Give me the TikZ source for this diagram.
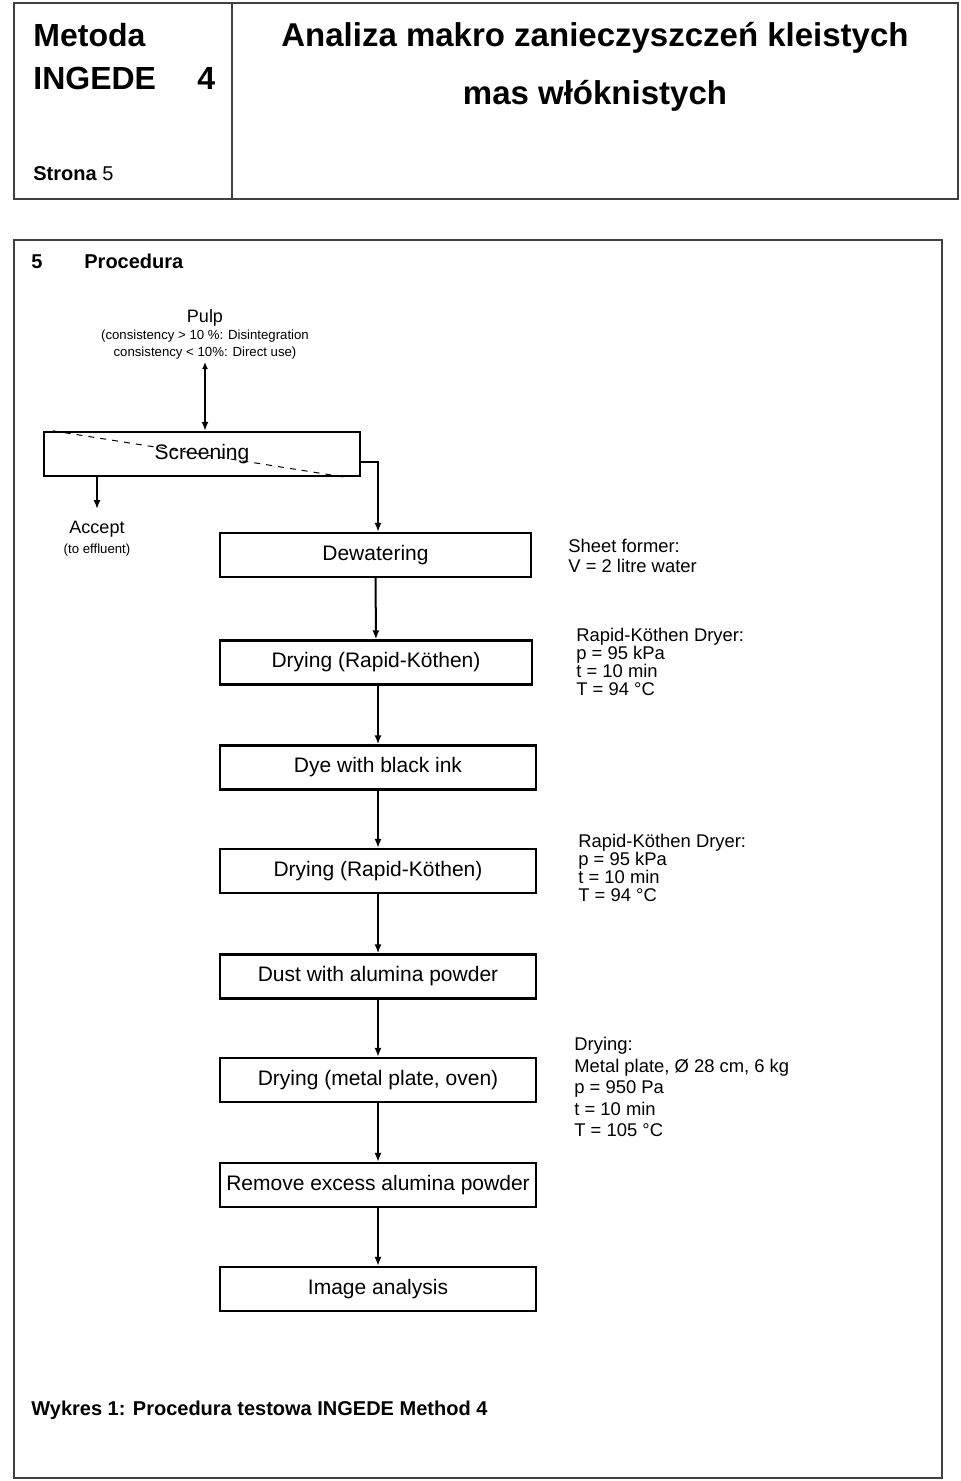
\documentclass[tikz,border=0pt]{standalone}
\usepackage{fontspec}
\setmainfont{Liberation Sans}
\usetikzlibrary{arrows.meta}

\begin{document}
\begin{tikzpicture}[x=0.5pt,y=-0.5pt,
    stepbox/.style={draw, line width=1.2pt, minimum width=158pt, minimum height=22pt, inner sep=0pt, font=\fontsize{10.5}{12}\selectfont},
    note/.style={anchor=north west, align=left, inner sep=0pt, font=\fontsize{9.2}{8.9}\selectfont},
    flow/.style={line width=1pt, -{Latex[length=4.5pt,width=3.6pt]}},
    frame/.style={line width=1pt, draw=black!75}]
  \useasboundingbox (0,0) rectangle (960,1481);

  % header
  \draw[frame] (14,3) rectangle (958,199);
  \draw[frame] (232,3) -- (232,199);
  \node[anchor=base west, inner sep=0pt, font=\fontsize{16}{18}\selectfont\bfseries] (metoda) at (33,47) {Metoda};
  \node[anchor=base west, inner sep=0pt, font=\fontsize{16}{18}\selectfont\bfseries] (ingede) at (33,90) {INGEDE};
  \node[anchor=base west, inner sep=0pt, font=\fontsize{16}{18}\selectfont\bfseries] (nr) at (197,90) {4};
  \node[anchor=base west, inner sep=0pt, font=\fontsize{10}{12}\selectfont] (strona) at (33,181) {\textbf{Strona} 5};
  \node[anchor=base, inner sep=0pt, font=\fontsize{16.5}{18}\selectfont\bfseries] (title1) at (595,47) {Analiza makro zanieczyszczeń kleistych};
  \node[anchor=base, inner sep=0pt, font=\fontsize{16.5}{18}\selectfont\bfseries] (title2) at (595,105) {mas włóknistych};

  % main frame
  \draw[frame] (14,240) rectangle (942,1478);
  \node[anchor=base west, inner sep=0pt, font=\fontsize{10}{12}\selectfont\bfseries] (secnr) at (31,269) {5};
  \node[anchor=base west, inner sep=0pt, font=\fontsize{10}{12}\selectfont\bfseries] (sec) at (84,269) {Procedura};
  \node[anchor=base west, inner sep=0pt, font=\fontsize{10}{12}\selectfont\bfseries] (caption) at (31,1415) {Wykres 1: Procedura testowa INGEDE Method 4};

  % flow chart
  \node[anchor=south, align=center, inner sep=1pt, font=\fontsize{6.6}{8.5}\selectfont] (pulp) at (205,362)
    {{\fontsize{9}{10}\selectfont Pulp}\\
     (consistency > 10 \%: Disintegration\\
     consistency < 10\%: Direct use)};
  \node[stepbox] (scr) at (202,454) {Screening};
  \draw[dashed, line width=0.5pt] ([xshift=5pt]scr.north west) -- ([xshift=-8pt]scr.south east);
  \node[anchor=north, align=center, inner sep=0pt, font=\fontsize{6.6}{10}\selectfont] (acc) at (97,521)
    {{\fontsize{9}{10}\selectfont Accept}\\
     (to effluent)};

  \node[stepbox, minimum width=155.5pt] (dew) at (375.5,555) {Dewatering};
  \node[stepbox, minimum width=156pt] (dry1) at (376,662.5) {Drying (Rapid-Köthen)};
  \node[stepbox] (dye) at (378,767.5) {Dye with black ink};
  \node[stepbox] (dry2) at (378,871) {Drying (Rapid-Köthen)};
  \node[stepbox] (dust) at (378,976.5) {Dust with alumina powder};
  \node[stepbox] (dry3) at (378,1080) {Drying (metal plate, oven)};
  \node[stepbox] (rem) at (378,1185) {Remove excess alumina powder};
  \node[stepbox] (img) at (378,1289) {Image analysis};

  \node[note, font=\fontsize{9.2}{10}\selectfont] (former) at (568,539) {Sheet former:\\V = 2 litre water};
  \node[note] (rk1) at (576,628) {Rapid-Köthen Dryer:\\p = 95 kPa\\t = 10 min\\T = 94 °C};
  \node[note] (rk2) at (578,834) {Rapid-Köthen Dryer:\\p = 95 kPa\\t = 10 min\\T = 94 °C};
  \node[note, font=\fontsize{9.2}{10.75}\selectfont] (oven) at (574,1037) {Drying:\\Metal plate, Ø 28 cm, 6 kg\\p = 950 Pa\\t = 10 min\\T = 105 °C};

  \draw[flow, {Latex[length=3.5pt,width=3pt]}-{Latex[length=4.5pt,width=3.6pt]}] (pulp.south) -- (pulp.south |- scr.north);
  \draw[flow] (scr.south -| acc.north) -- ([yshift=6pt]acc.north);
  \draw[flow] ([yshift=-4pt]scr.east) -| ([xshift=1.25pt]dew.north);
  \draw[flow] (dew) -- (dry1);
  \draw[flow] (dry1.south -| dye.north) -- (dye.north);
  \draw[flow] (dye) -- (dry2);
  \draw[flow] (dry2) -- (dust);
  \draw[flow] (dust) -- (dry3);
  \draw[flow] (dry3) -- (rem);
  \draw[flow] (rem) -- (img);
\end{tikzpicture}
\end{document}
